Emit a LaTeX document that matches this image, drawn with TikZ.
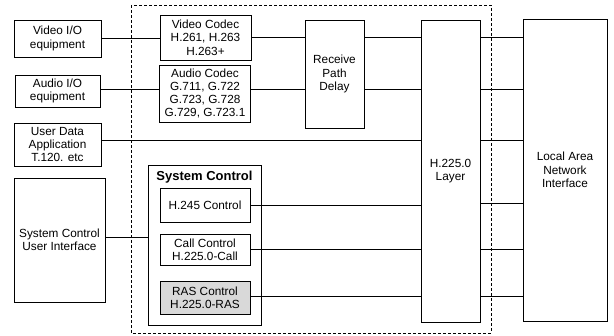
\documentclass[tikz,border=0pt]{standalone}
\usepackage{fontspec}
\setmainfont{Liberation Sans}
\begin{document}
\begin{tikzpicture}[x=1pt,y=-1pt,
  box/.style={draw, line width=0.9pt, align=center, inner sep=1pt, font=\fontsize{11.8}{13.3}\selectfont},
  wire/.style={line width=0.8pt},
  frame/.style={densely dashed, line width=0.8pt}]
\useasboundingbox (0,0) rectangle (614,336);
% dashed frame
\draw[frame] (131,5) rectangle (491,333);
% left boxes
\node[box, minimum width=87pt, minimum height=37pt] (vio) at (57.5,38.5) {Video I/O\\equipment};
\node[box, minimum width=85pt, minimum height=32pt] (aio) at (57.5,91) {Audio I/O\\equipment};
\node[box, minimum width=87pt, minimum height=43pt] (ud) at (57.5,144.5) {User Data\\Application\\T.120. etc};
\node[box, minimum width=91pt, minimum height=124pt] (scui) at (59.5,240) {System Control\\User Interface};
% codecs
\node[box, minimum width=91pt, minimum height=45pt] (vc) at (205.5,37.5) {Video Codec\\H.261, H.263\\H.263+};
\node[box, minimum width=91pt, minimum height=57pt] (ac) at (205,93.5) {Audio Codec\\G.711, G.722\\G.723, G.728\\G.729, G.723.1};
% system control
\node[draw, line width=0.9pt, minimum width=113pt, minimum height=160pt] (sc) at (204.5,245) {};
\node[font=\fontsize{13}{15}\selectfont\bfseries, anchor=north] (sct) at (sc.north) [yshift=-3pt] {System Control};
\node[box, minimum width=90pt, minimum height=34pt] (h245) at (205,205) {H.245 Control};
\node[box, minimum width=90pt, minimum height=31pt] (cc) at (205,249.5) {Call Control\\H.225.0-Call};
\node[box, fill=gray!30, minimum width=90pt, minimum height=33pt] (ras) at (205,297.5) {RAS Control\\H.225.0-RAS};
% receive path delay
\node[box, minimum width=59pt, minimum height=108pt] (rpd) at (334.5,74) {Receive\\Path\\Delay};
% H.225.0 layer
\node[box, minimum width=59pt, minimum height=302pt] (h225) at (450.5,171) {H.225.0\\Layer};
% LAN
\node[box, minimum width=84pt, minimum height=302pt] (lan) at (565,170) {Local Area\\Network\\Interface};
% connectors
\draw[wire] (vio.east) -- (vio.east -| vc.west);
\draw[wire] ([yshift=2pt]aio.east) -- ([yshift=2pt]aio.east -| ac.west);
\draw[wire] ([yshift=4.5pt]ud.east) -- ([yshift=4.5pt]ud.east -| h225.west);
\draw[wire] ([yshift=3pt]scui.east) -- ([yshift=3pt]scui.east -| sc.west);
\draw[wire] (vc.east) -- (vc.east -| rpd.west);
\draw[wire] ([yshift=4.5pt]ac.east) -- ([yshift=4.5pt]ac.east -| rpd.west);
\draw[wire] (rpd.east |- vc.east) -- (h225.west |- vc.east);
\draw[wire] ([yshift=4.5pt]rpd.east |- ac.east) -- ([yshift=4.5pt]h225.west |- ac.east);
\draw[wire] (h245.east) -- (h245.east -| h225.west);
\draw[wire] (cc.east) -- (cc.east -| h225.west);
\draw[wire] ([yshift=1.5pt]ras.east) -- ([yshift=1.5pt]ras.east -| h225.west);
% H.225 to LAN
\draw[wire] (h225.east |- vc.east) -- (lan.west |- vc.east);
\draw[wire] ([yshift=4.5pt]h225.east |- ac.east) -- ([yshift=4.5pt]lan.west |- ac.east);
\draw[wire] ([yshift=4.5pt]h225.east |- ud.east) -- ([yshift=4.5pt]lan.west |- ud.east);
\draw[wire] ([yshift=2pt]h225.east |- h245.east) -- ([yshift=2pt]lan.west |- h245.east);
\draw[wire] (h225.east |- cc.east) -- (lan.west |- cc.east);
\draw[wire] ([yshift=1.5pt]h225.east |- ras.east) -- ([yshift=1.5pt]lan.west |- ras.east);
\end{tikzpicture}
\end{document}
